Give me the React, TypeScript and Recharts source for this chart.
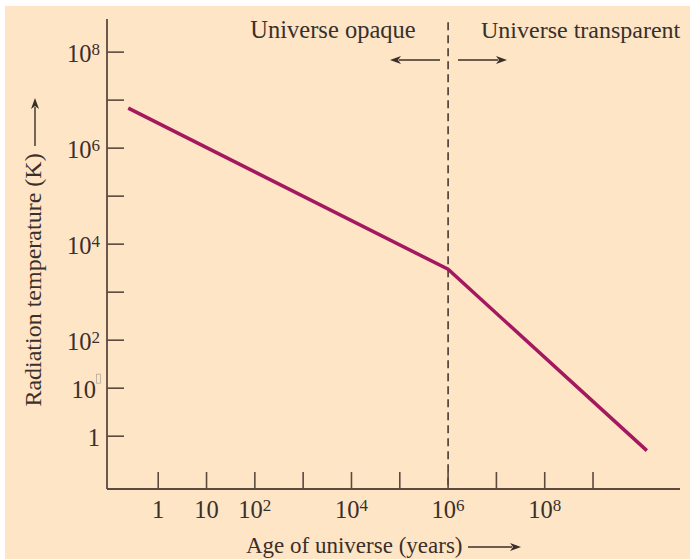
import React from 'react';
import { LineChart, Line, XAxis, YAxis, ReferenceLine } from 'recharts';

// Temperature of the background radiation versus the age of the universe
const ageYears = [0.24, 1e6, 1.3e10];
const temperatureK = [6.8e6, 3000, 0.5];

// Decade ticks and their labels ("" = unlabeled tick, "10^n" = power of ten)
const xTicks = [1, 10, 1e2, 1e3, 1e4, 1e5, 1e6, 1e7, 1e8, 1e9];
const xTickLabels = ['1', '10', '10^2', '', '10^4', '', '10^6', '', '10^8', ''];
const yTicks = [1, 10, 1e2, 1e3, 1e4, 1e5, 1e6, 1e7, 1e8];
const yTickLabels = ['1', '10^?', '10^2', '', '10^4', '', '10^6', '', '10^8'];

const decoupling = 1e6;

const data = ageYears.map((age, i) => ({ age, temp: temperatureK[i] }));

const FONT = '"Liberation Serif", "Times New Roman", serif';
const INK = '#3a2f2a';
const AXIS = '#5a4a3f';
const CURVE = '#a3185e';
const BG = '#fde5c6';

const FS = 24.5;
const SUP = 17;

function splitLabel(label: string) {
  const [base, exp] = label.split('^');
  return { base, exp };
}

function XTick(props: any) {
  const { x, y, payload } = props;
  const idx = xTicks.indexOf(payload.value);
  const label = idx >= 0 ? xTickLabels[idx] : '';
  const { base, exp } = splitLabel(label);
  return (
    <g>
      <line x1={x} x2={x} y1={y} y2={y - 17} stroke={AXIS} strokeWidth={1.6} />
      {label && (
        <text x={x} y={y + 29} textAnchor="middle" fontFamily={FONT} fontSize={FS} fill={INK}>
          <tspan>{base}</tspan>
          {exp && (
            <tspan dy={-7} fontSize={SUP}>
              {exp}
            </tspan>
          )}
        </text>
      )}
    </g>
  );
}

function YTick(props: any) {
  const { x, y, payload } = props;
  const idx = yTicks.indexOf(payload.value);
  const label = idx >= 0 ? yTickLabels[idx] : '';
  const { base, exp } = splitLabel(label);
  const missingGlyph = exp === '?';
  return (
    <g>
      <line x1={x} x2={x + 17} y1={y} y2={y} stroke={AXIS} strokeWidth={1.6} />
      {label && !missingGlyph && (
        <text x={x - 7} y={y + 9.5} textAnchor="end" fontFamily={FONT} fontSize={FS} fill={INK}>
          <tspan>{base}</tspan>
          {exp && (
            <tspan dy={-7} fontSize={SUP}>
              {exp}
            </tspan>
          )}
        </text>
      )}
      {missingGlyph && (
        <g>
          <text x={x - 11} y={y + 9.5} textAnchor="end" fontFamily={FONT} fontSize={FS} fill={INK}>
            {base}
          </text>
          <rect x={x - 10.5} y={y - 14} width={4} height={9} fill="none" stroke="#b9a999" strokeWidth={0.8} />
        </g>
      )}
    </g>
  );
}

function Arrow({ x1, y1, x2, y2 }: { x1: number; y1: number; x2: number; y2: number }) {
  const ang = Math.atan2(y2 - y1, x2 - x1);
  const len = 11;
  const half = 4;
  const bx = x2 - Math.cos(ang) * len;
  const by = y2 - Math.sin(ang) * len;
  const px = -Math.sin(ang) * half;
  const py = Math.cos(ang) * half;
  return (
    <g>
      <line x1={x1} y1={y1} x2={bx + Math.cos(ang) * 2} y2={by + Math.sin(ang) * 2} stroke={INK} strokeWidth={1.4} />
      <polygon
        points={`${x2},${y2} ${bx + px},${by + py} ${bx + Math.cos(ang) * 3},${by + Math.sin(ang) * 3} ${bx - px},${by - py}`}
        fill={INK}
      />
    </g>
  );
}

export default function App() {
  return (
    <div style={{ position: 'absolute', left: 0, top: 0, width: 693, height: 559, background: '#ffffff' }}>
      <div style={{ position: 'absolute', left: 5, top: 6, width: 685, height: 553, background: BG }} />
      <div style={{ position: 'absolute', left: 0, top: 0 }}>
        <LineChart width={693} height={559} data={data} margin={{ top: 19, right: 13, bottom: 0, left: 0 }}>
          <XAxis
            dataKey="age"
            type="number"
            scale="log"
            domain={[10 ** -1.06, 10 ** 10.8]}
            ticks={xTicks}
            tick={<XTick />}
            tickLine={false}
            tickSize={0}
            tickMargin={0}
            height={70}
            axisLine={{ stroke: AXIS, strokeWidth: 1.8 }}
            allowDataOverflow
            interval={0}
          />
          <YAxis
            dataKey="temp"
            type="number"
            scale="log"
            domain={[10 ** -1.1, 10 ** 8.69]}
            ticks={yTicks}
            tick={<YTick />}
            tickLine={false}
            tickSize={0}
            tickMargin={0}
            width={107}
            axisLine={{ stroke: AXIS, strokeWidth: 1.8 }}
            allowDataOverflow
            interval={0}
          />
          <ReferenceLine
            segment={[
              { x: decoupling, y: 10 ** 8.62 },
              { x: decoupling, y: 10 ** -1.1 },
            ]}
            stroke={INK}
            strokeWidth={1.5}
            strokeDasharray="8 5"
          />
          <Line
            dataKey="temp"
            type="linear"
            stroke={CURVE}
            strokeWidth={3.5}
            dot={false}
            isAnimationActive={false}
          />
        </LineChart>
      </div>
      <svg
        width={693}
        height={559}
        style={{ position: 'absolute', left: 0, top: 0, pointerEvents: 'none' }}
      >
        <text x={333} y={38} textAnchor="middle" fontFamily={FONT} fontSize={24.5} fill={INK}>
          Universe opaque
        </text>
        <text x={481} y={38} textAnchor="start" fontFamily={FONT} fontSize={24} fill={INK}>
          Universe transparent
        </text>
        <Arrow x1={440} y1={60} x2={390} y2={60} />
        <Arrow x1={458} y1={60} x2={507} y2={60} />

        <text
          transform="translate(41, 280) rotate(-90)"
          textAnchor="middle"
          fontFamily={FONT}
          fontSize={24}
          fill={INK}
        >
          Radiation temperature (K)
        </text>
        <Arrow x1={35} y1={146} x2={35} y2={98} />

        <text x={246} y={553} textAnchor="start" fontFamily={FONT} fontSize={23} fill={INK}>
          Age of universe (years)
        </text>
        <Arrow x1={468} y1={547} x2={521} y2={547} />
      </svg>
    </div>
  );
}
